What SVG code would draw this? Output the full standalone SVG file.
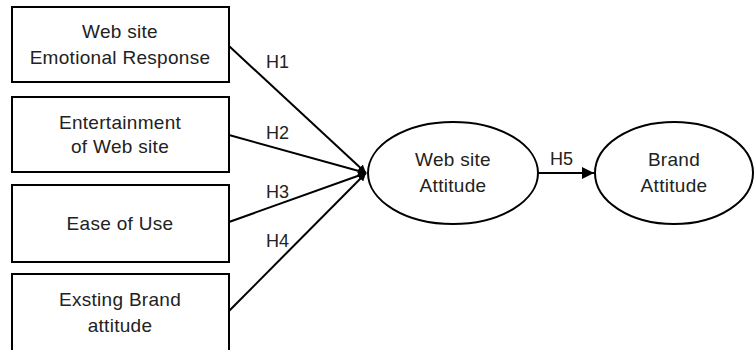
<svg xmlns="http://www.w3.org/2000/svg" width="754" height="350" viewBox="0 0 754 350">
<defs>
<style>
.box{fill:#fff;stroke:#000;stroke-width:2}
.t{font-family:"Liberation Sans",Arial,sans-serif;font-size:19px;letter-spacing:0.3px;fill:#222;text-anchor:middle}
.h{font-family:"Liberation Sans",Arial,sans-serif;font-size:18px;fill:#222}
.c{stroke:#000;stroke-width:2;fill:none}
</style>
<marker id="sm" viewBox="0 0 10 10" refX="10" refY="5" markerWidth="4" markerHeight="4" orient="auto" markerUnits="strokeWidth"><path d="M0,0 L10,5 L0,10 z" fill="#000"/></marker>
<marker id="ar" viewBox="0 0 10 10" refX="10" refY="5" markerWidth="6" markerHeight="6" orient="auto" markerUnits="strokeWidth"><path d="M0,0 L10,5 L0,10 z" fill="#000"/></marker>
</defs>
<rect width="754" height="350" fill="#fff"/>
<g id="connectors">
<line class="c" x1="229" y1="46" x2="366" y2="173" marker-end="url(#sm)"/>
<line class="c" x1="229" y1="135" x2="366" y2="173" marker-end="url(#sm)"/>
<line class="c" x1="229" y1="222" x2="366" y2="173" marker-end="url(#sm)"/>
<line class="c" x1="229" y1="311" x2="366" y2="173" marker-end="url(#sm)"/>
<line class="c" x1="538" y1="173" x2="594" y2="173" marker-end="url(#ar)"/>
<text class="h" x="266" y="68">H1</text>
<text class="h" x="266" y="139">H2</text>
<text class="h" x="266" y="198">H3</text>
<text class="h" x="266" y="247">H4</text>
<text class="h" x="550" y="165">H5</text>
</g>
<g id="n1"><rect class="box" x="12" y="7" width="217" height="75"/><text class="t" x="120" y="38">Web site</text><text class="t" x="120" y="64">Emotional Response</text></g>
<g id="n2"><rect class="box" x="12" y="97" width="217" height="75"/><text class="t" x="120" y="129">Entertainment</text><text class="t" x="120" y="153">of Web site</text></g>
<g id="n3"><rect class="box" x="12" y="185" width="217" height="77"/><text class="t" x="120" y="230">Ease of Use</text></g>
<g id="n4"><rect class="box" x="12" y="274" width="217" height="80"/><text class="t" x="120" y="306">Exsting Brand</text><text class="t" x="120" y="332">attitude</text></g>
<g id="n5"><ellipse class="box" cx="453" cy="173" rx="85" ry="51"/><text class="t" x="453" y="166">Web site</text><text class="t" x="453" y="192">Attitude</text></g>
<g id="n6"><ellipse class="box" cx="674" cy="173" rx="79" ry="51"/><text class="t" x="674" y="166">Brand</text><text class="t" x="674" y="192">Attitude</text></g>
</svg>
